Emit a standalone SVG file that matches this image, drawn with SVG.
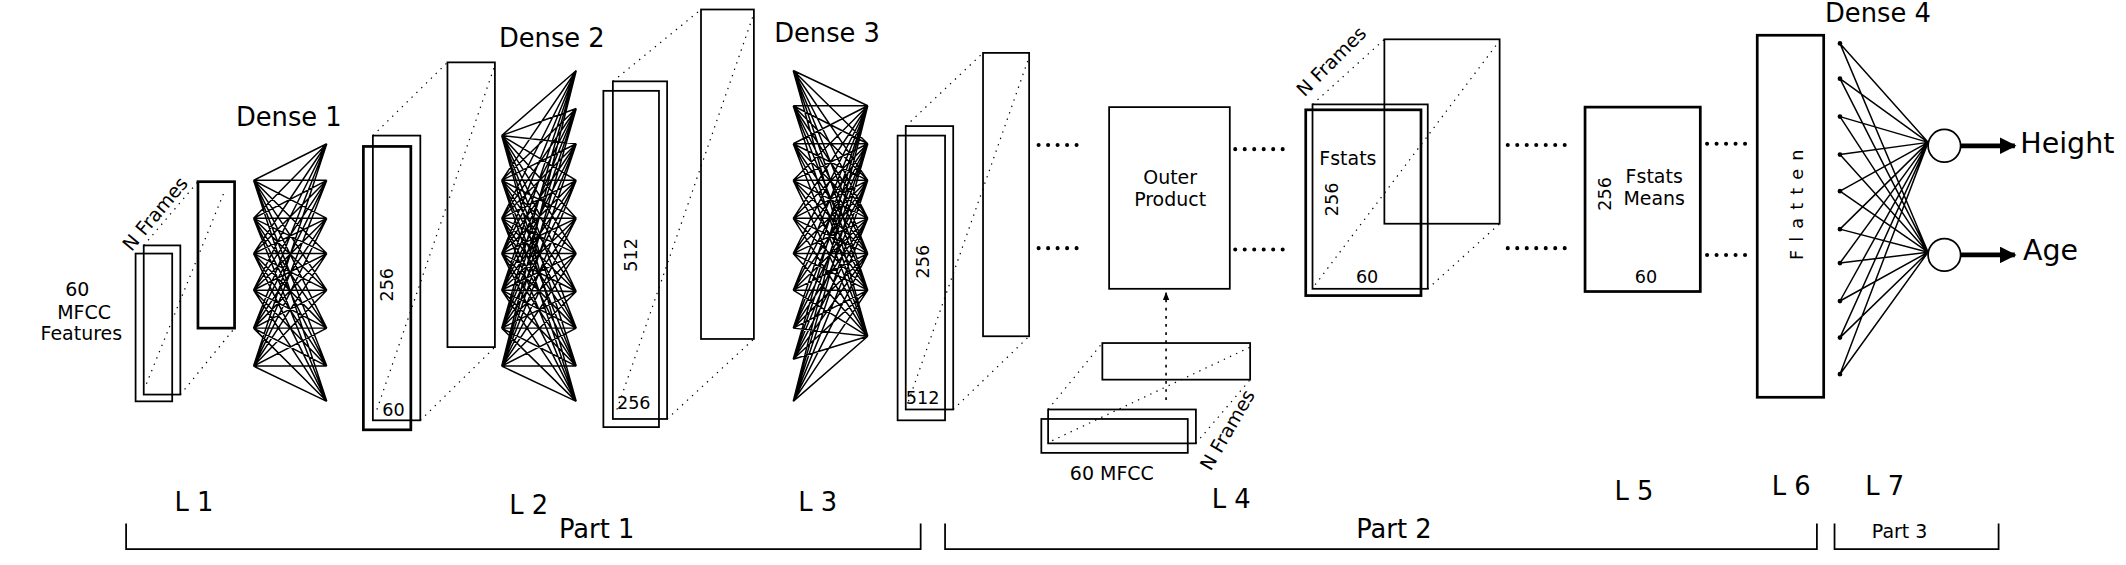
<svg xmlns="http://www.w3.org/2000/svg" width="2126" height="565" viewBox="0 0 2126 565">
<style>
.b{fill:none;stroke:#000;stroke-width:1.3}
.bt{fill:none;stroke:#000;stroke-width:2}
.d{fill:none;stroke:#000;stroke-width:0.9;stroke-dasharray:1 4}
.dots{fill:none;stroke:#000;stroke-width:3;stroke-linecap:round;stroke-dasharray:0 7}
.n{fill:none;stroke:#000;stroke-width:1.1}
text{font-family:"DejaVu Sans","Liberation Sans",sans-serif;fill:#000}
.t19{font-size:19px}.t14{font-size:14px}.t13{font-size:13px}
</style>
<defs>
<marker id="ah" viewBox="0 0 10 10" refX="9" refY="5" markerWidth="3.5" markerHeight="3.5" orient="auto"><path d="M0 0L10 5L0 10z"/></marker>
<marker id="sa" viewBox="0 0 10 10" refX="9" refY="5" markerWidth="5" markerHeight="5" orient="auto"><path d="M0 1L10 5L0 9z"/></marker>
</defs>
<rect width="2126" height="565" fill="#fff"/>
<g transform="scale(1.3559)">
<g id="input">
<rect class="b" x="100" y="187" width="27" height="109"/>
<rect class="b" x="106" y="181" width="27" height="110"/>
<rect class="bt" x="146" y="134" width="27" height="108"/>
<path class="d" d="M106 181L146 134M133 291L173 242M108 283L166 140"/>
<text class="t14" text-anchor="middle" x="57" y="218">60</text>
<text class="t14" text-anchor="middle" x="62" y="235">MFCC</text>
<text class="t14" text-anchor="middle" x="60" y="251">Features</text>
<text class="t14" transform="translate(97,186) rotate(-50)">N Frames</text>
</g>
<g id="block256">
<rect class="bt" x="268" y="108" width="35" height="209"/>
<rect class="b" x="275" y="100" width="35" height="210"/>
<rect class="b" x="330" y="46" width="35" height="210"/>
<path class="d" d="M275 100L330 46M310 310L365 256M278 302L365 48"/>
<text class="t13" transform="translate(290,210) rotate(-90)" text-anchor="middle">256</text>
<text class="t13" x="282" y="307">60</text>
</g>
<g id="block512">
<rect class="b" x="445" y="67" width="41" height="248"/>
<rect class="b" x="452" y="60" width="40" height="249"/>
<rect class="b" x="517" y="7" width="39" height="243"/>
<path class="d" d="M452 60L517 7M492 309L556 250M455 302L556 10"/>
<text class="t13" transform="translate(470,188) rotate(-90)" text-anchor="middle">512</text>
<text class="t13" x="455" y="302">256</text>
</g>
<g id="block256b">
<rect class="b" x="662" y="100" width="35" height="210"/>
<rect class="b" x="668" y="93" width="35" height="209"/>
<rect class="b" x="725" y="39" width="34" height="209"/>
<path class="d" d="M668 93L725 39M703 302L759 248M670 296L759 42"/>
<text class="t13" transform="translate(685,193) rotate(-90)" text-anchor="middle">256</text>
<text class="t13" x="668" y="298">512</text>
</g>
<g id="outer">
<rect class="b" x="818" y="79" width="89" height="134"/>
<text class="t14" text-anchor="middle" x="863" y="136">Outer</text>
<text class="t14" text-anchor="middle" x="863" y="152">Product</text>
</g>
<g id="mfcc2">
<rect class="b" x="768" y="309" width="108" height="25"/>
<rect class="b" x="773" y="302" width="109" height="25"/>
<rect class="b" x="813" y="253" width="109" height="27"/>
<path class="d" d="M773 302L813 253M882 327L922 280M776 325L922 256"/>
<text class="t14" text-anchor="middle" x="820" y="354">60 MFCC</text>
<text class="t14" transform="translate(893,348) rotate(-60)">N Frames</text>
</g>
<g id="fstats">
<rect class="bt" x="963" y="81" width="85" height="137"/>
<rect class="b" x="968" y="77" width="85" height="136"/>
<rect class="b" x="1021" y="29" width="85" height="136"/>
<path class="d" d="M968 77L1021 29M1053 213L1106 165M970 210L1106 30"/>
<text class="t14" x="973" y="122">Fstats</text>
<text class="t13" transform="translate(987,147) rotate(-90)" text-anchor="middle">256</text>
<text class="t13" x="1000" y="209">60</text>
<text class="t14" transform="translate(962,72) rotate(-45)">N Frames</text>
</g>
<g id="means">
<rect class="bt" x="1169" y="79" width="85" height="136"/>
<text class="t14" text-anchor="middle" x="1220" y="135">Fstats</text>
<text class="t14" text-anchor="middle" x="1220" y="151">Means</text>
<text class="t13" transform="translate(1188,143) rotate(-90)" text-anchor="middle">256</text>
<text class="t13" text-anchor="middle" x="1214" y="209">60</text>
</g>
<g id="flatten">
<rect class="bt" x="1296" y="26" width="49" height="267"/>
<text class="t13" transform="translate(1330,148) rotate(-90)" text-anchor="middle" letter-spacing="6">Flatten</text>
</g>
<g id="outputs">
<ellipse class="b" cx="1434" cy="107.5" rx="12" ry="12"/>
<ellipse class="b" cx="1434" cy="188" rx="12" ry="12"/>
<text x="1490" y="113" style="font-size:21px">Height</text>
<text x="1492" y="192" style="font-size:21px">Age</text>
</g>
<g id="connectors">
<path class="n" d="M187 133L241 106L187 133L241 133L187 133L241 161L187 133L241 187L187 133L241 214L187 133L241 242L187 133L241 270L187 133L241 296
M187 161L241 106L187 161L241 133L187 161L241 161L187 161L241 187L187 161L241 214L187 161L241 242L187 161L241 270L187 161L241 296
M187 187L241 106L187 187L241 133L187 187L241 161L187 187L241 187L187 187L241 214L187 187L241 242L187 187L241 270L187 187L241 296
M187 214L241 106L187 214L241 133L187 214L241 161L187 214L241 187L187 214L241 214L187 214L241 242L187 214L241 270L187 214L241 296
M187 242L241 106L187 242L241 133L187 242L241 161L187 242L241 187L187 242L241 214L187 242L241 242L187 242L241 270L187 242L241 296
M187 270L241 106L187 270L241 133L187 270L241 161L187 270L241 187L187 270L241 214L187 270L241 242L187 270L241 270L187 270L241 296"/>
<path class="n" d="M370 100L425 52L370 100L425 80L370 100L425 106L370 100L425 133L370 100L425 161L370 100L425 187L370 100L425 215L370 100L425 242L370 100L425 270L370 100L425 296
M370 133L425 52L370 133L425 80L370 133L425 106L370 133L425 133L370 133L425 161L370 133L425 187L370 133L425 215L370 133L425 242L370 133L425 270L370 133L425 296
M370 161L425 52L370 161L425 80L370 161L425 106L370 161L425 133L370 161L425 161L370 161L425 187L370 161L425 215L370 161L425 242L370 161L425 270L370 161L425 296
M370 187L425 52L370 187L425 80L370 187L425 106L370 187L425 133L370 187L425 161L370 187L425 187L370 187L425 215L370 187L425 242L370 187L425 270L370 187L425 296
M370 214L425 52L370 214L425 80L370 214L425 106L370 214L425 133L370 214L425 161L370 214L425 187L370 214L425 215L370 214L425 242L370 214L425 270L370 214L425 296
M370 242L425 52L370 242L425 80L370 242L425 106L370 242L425 133L370 242L425 161L370 242L425 187L370 242L425 215L370 242L425 242L370 242L425 270L370 242L425 296
M370 270L425 52L370 270L425 80L370 270L425 106L370 270L425 133L370 270L425 161L370 270L425 187L370 270L425 215L370 270L425 242L370 270L425 270L370 270L425 296"/>
<path class="n" d="M640 78L585 52L640 78L585 78L640 78L585 106L640 78L585 133L640 78L585 161L640 78L585 187L640 78L585 214L640 78L585 242L640 78L585 265L640 78L585 296
M640 106L585 52L640 106L585 78L640 106L585 106L640 106L585 133L640 106L585 161L640 106L585 187L640 106L585 214L640 106L585 242L640 106L585 265L640 106L585 296
M640 133L585 52L640 133L585 78L640 133L585 106L640 133L585 133L640 133L585 161L640 133L585 187L640 133L585 214L640 133L585 242L640 133L585 265L640 133L585 296
M640 161L585 52L640 161L585 78L640 161L585 106L640 161L585 133L640 161L585 161L640 161L585 187L640 161L585 214L640 161L585 242L640 161L585 265L640 161L585 296
M640 187L585 52L640 187L585 78L640 187L585 106L640 187L585 133L640 187L585 161L640 187L585 187L640 187L585 214L640 187L585 242L640 187L585 265L640 187L585 296
M640 214L585 52L640 214L585 78L640 214L585 106L640 214L585 133L640 214L585 161L640 214L585 187L640 214L585 214L640 214L585 242L640 214L585 265L640 214L585 296
M640 248L585 52L640 248L585 78L640 248L585 106L640 248L585 133L640 248L585 161L640 248L585 187L640 248L585 214L640 248L585 242L640 248L585 265L640 248L585 296"/>
<path class="n" d="M1422 105L1357 32L1422 105L1357 58L1422 105L1357 86L1422 105L1357 114L1422 105L1357 141L1422 105L1357 169L1422 105L1357 194L1422 105L1357 222L1422 105L1357 249L1422 105L1357 276
M1422 186L1357 32L1422 186L1357 58L1422 186L1357 86L1422 186L1357 114L1422 186L1357 141L1422 186L1357 169L1422 186L1357 194L1422 186L1357 222L1422 186L1357 249L1422 186L1357 276"/>
<path d="M1357 32v0M1357 58v0M1357 86v0M1357 114v0M1357 141v0M1357 169v0M1357 194v0M1357 222v0M1357 249v0M1357 276v0" stroke="#000" stroke-width="3.5" stroke-linecap="round"/>
<path d="M1446 107.5H1486" stroke="#000" stroke-width="3.5" marker-end="url(#ah)"/>
<path d="M1446 188H1486" stroke="#000" stroke-width="3.5" marker-end="url(#ah)"/>
<path class="dots" d="M766 107H800M766 183H800M911 110H950M911 184H950M1112 107H1160M1112 183H1160M1259 106H1290M1259 188H1290"/>
<path d="M860 295V216" stroke="#000" stroke-width="1.2" stroke-dasharray="2 4" fill="none" marker-end="url(#sa)"/>
<path class="b" d="M93 386V405H679V386M697 386V405H1340V386M1353 386V405H1474V386"/>
</g>
<g id="labels">
<text class="t19" text-anchor="middle" x="213" y="93">Dense 1</text>
<text class="t19" text-anchor="middle" x="407" y="35">Dense 2</text>
<text class="t19" text-anchor="middle" x="610" y="31">Dense 3</text>
<text class="t19" text-anchor="middle" x="1385" y="16">Dense 4</text>
<text class="t19" text-anchor="middle" x="143" y="377">L 1</text>
<text class="t19" text-anchor="middle" x="390" y="379">L 2</text>
<text class="t19" text-anchor="middle" x="603" y="377">L 3</text>
<text class="t19" text-anchor="middle" x="908" y="375">L 4</text>
<text class="t19" text-anchor="middle" x="1205" y="369">L 5</text>
<text class="t19" text-anchor="middle" x="1321" y="365">L 6</text>
<text class="t19" text-anchor="middle" x="1390" y="365">L 7</text>
<text class="t19" text-anchor="middle" x="440" y="397">Part 1</text>
<text class="t19" text-anchor="middle" x="1028" y="397">Part 2</text>
<text class="t14" text-anchor="middle" x="1401" y="397">Part 3</text>
</g>
</g>
</svg>
